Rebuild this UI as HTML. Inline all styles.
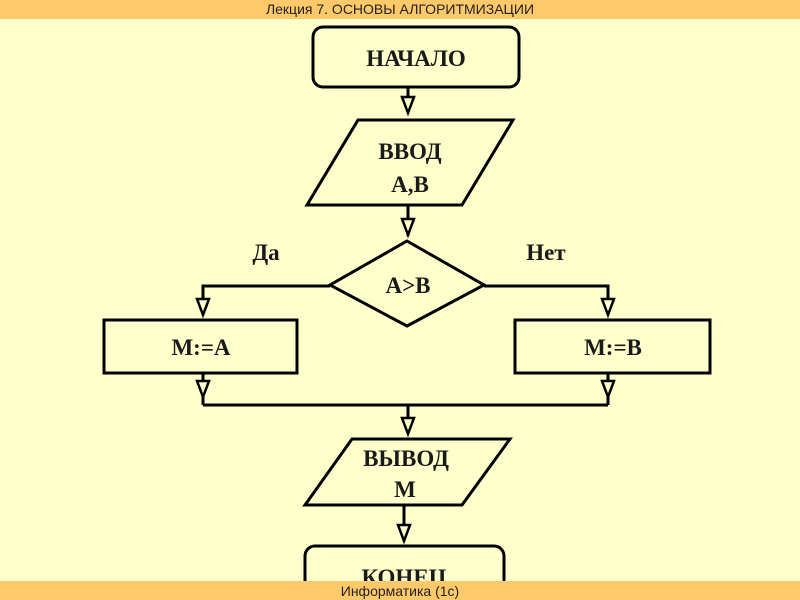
<!DOCTYPE html>
<html><head><meta charset="utf-8"><style>
body{margin:0;width:800px;height:600px;overflow:hidden;background:#ffffcc;}
svg{display:block}
</style></head><body>
<svg width="800" height="600" viewBox="0 0 800 600" xmlns="http://www.w3.org/2000/svg">
<defs>
<marker id="ah" markerWidth="14" markerHeight="16" refX="7" refY="15" orient="auto" markerUnits="userSpaceOnUse">
<path d="M1.5,1.5 L12.5,1.5 L7,14.5 Z" fill="#ffffcc" stroke="#000" stroke-width="2.5"/>
</marker>
</defs>
<rect x="0" y="0" width="800" height="600" fill="#ffffcc"/>
<g stroke="#000" stroke-width="3" fill="none">
<rect x="313" y="27" width="206" height="60" rx="10" fill="#ffffcc"/>
<polygon points="358,120 513,120 462,205 307,205" fill="#ffffcc"/>
<polygon points="407,241 484,285 407,326 330,285" fill="#ffffcc"/>
<rect x="104" y="320" width="193" height="53" fill="#ffffcc"/>
<rect x="515" y="320" width="195" height="53" fill="#ffffcc"/>
<polygon points="352,439 510,439 462,505 305,505" fill="#ffffcc"/>
<rect x="305" y="546" width="199" height="60" rx="10" fill="#ffffcc"/>
<line x1="408" y1="87" x2="408" y2="113"/>
<line x1="408" y1="205" x2="408" y2="236"/>
<polyline points="330,286 203,286 203,315"/>
<polyline points="484,286 608,286 608,315"/>
<line x1="203" y1="373" x2="203" y2="405"/>
<line x1="608" y1="373" x2="608" y2="405"/>
<line x1="203" y1="405" x2="608" y2="405"/>
<line x1="408" y1="405" x2="408" y2="434"/>
<line x1="404" y1="505" x2="404" y2="541"/>
</g>
<g fill="#ffffcc" stroke="#000" stroke-width="2.5">
<path d="M402,97 L414,97 L408,113 Z"/>
<path d="M402,219 L414,219 L408,235 Z"/>
<path d="M197,299 L209,299 L203,315 Z"/>
<path d="M602,299 L614,299 L608,315 Z"/>
<path d="M197,381 L209,381 L203,397 Z"/>
<path d="M602,381 L614,381 L608,397 Z"/>
<path d="M402,418 L414,418 L408,434 Z"/>
<path d="M398,525 L410,525 L404,541 Z"/>
</g>
<g font-family="Liberation Serif, serif" font-weight="bold" font-size="23" fill="#1a1a1a" text-anchor="middle">
<text x="416" y="66">НАЧАЛО</text>
<text x="410" y="159">ВВОД</text>
<text x="410" y="192">А,В</text>
<text x="408" y="293">А&gt;В</text>
<text x="266" y="260">Да</text>
<text x="546" y="260">Нет</text>
<text x="201" y="355">М:=А</text>
<text x="613" y="355">М:=В</text>
<text x="406" y="466">ВЫВОД</text>
<text x="405" y="497">М</text>
<text x="404" y="585">КОНЕЦ</text>
</g>
<rect x="0" y="0" width="800" height="19" fill="#fdc96a"/>
<rect x="0" y="581" width="800" height="19" fill="#fdc96a"/>
<g font-family="Liberation Sans, sans-serif" font-size="14" fill="#222" text-anchor="middle">
<text x="400" y="14">Лекция 7. ОСНОВЫ АЛГОРИТМИЗАЦИИ</text>
<text x="400" y="596">Информатика (1с)</text>
</g>
</svg>
</body></html>
